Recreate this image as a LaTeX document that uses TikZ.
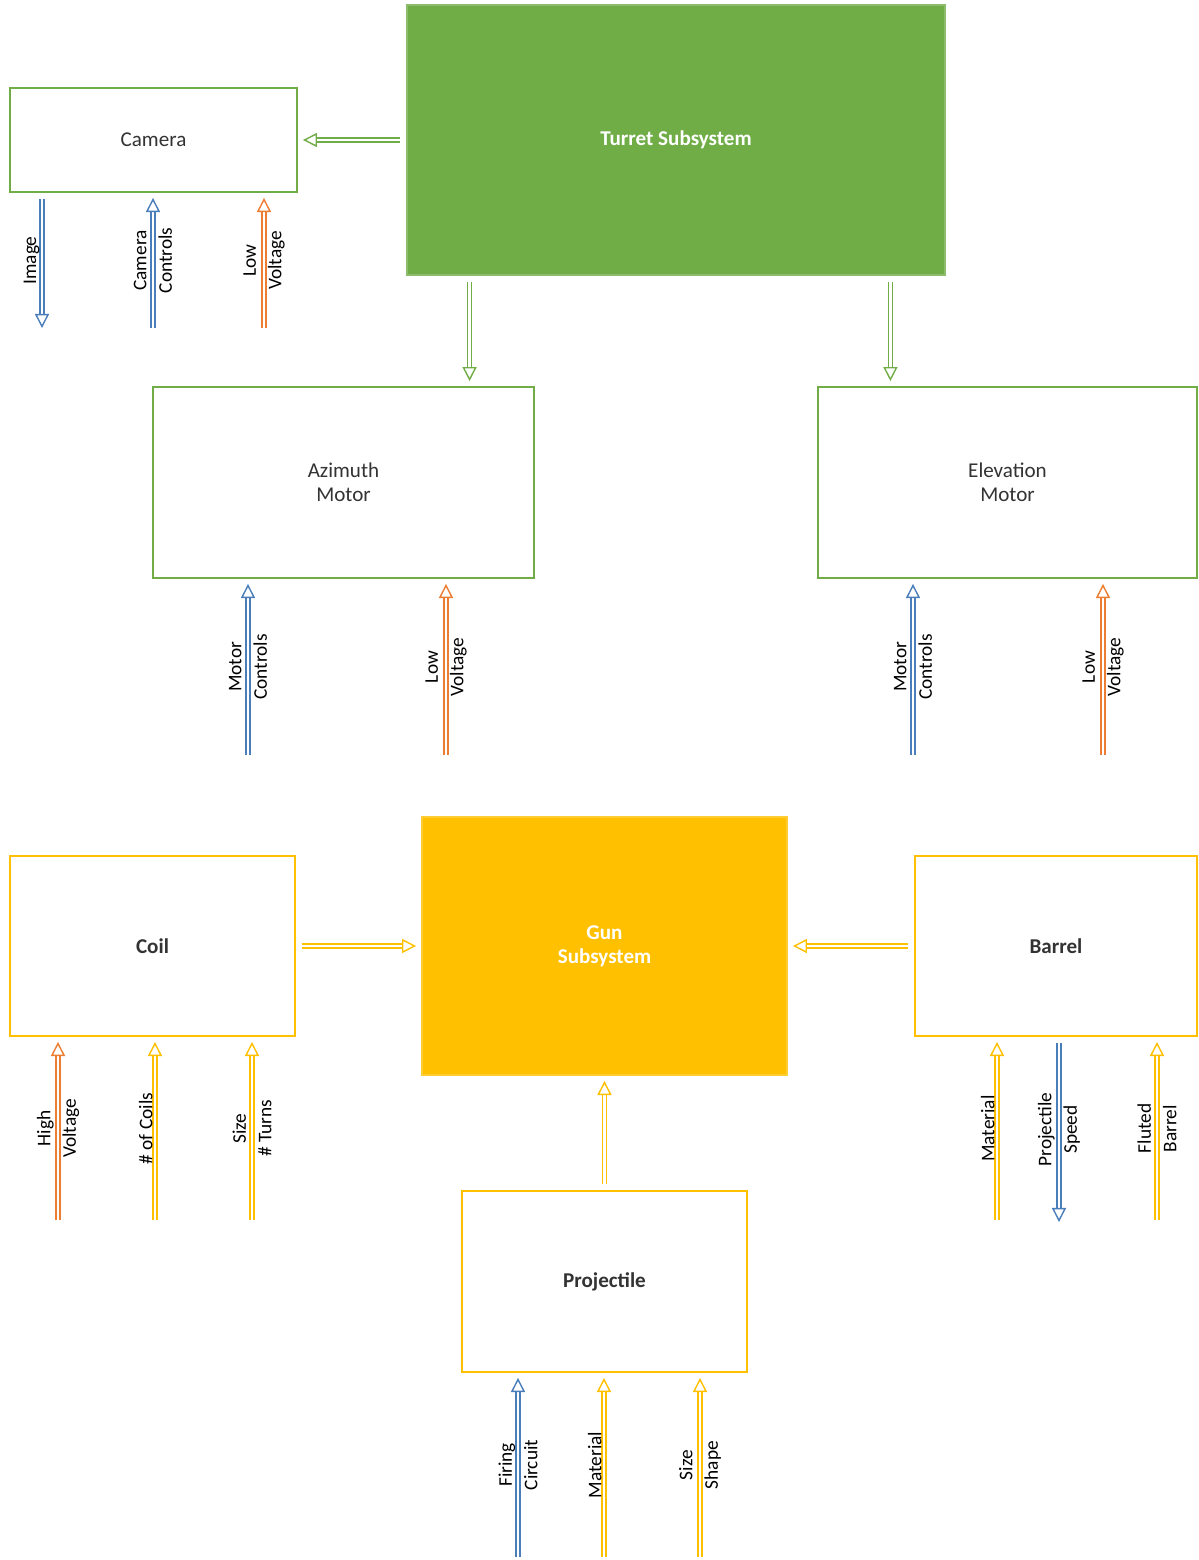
\documentclass[tikz,border=0pt]{standalone}
\usepackage{fontspec}
\setmainfont{Carlito}
\usetikzlibrary{arrows.meta}
\usetikzlibrary{positioning}

\definecolor{turretgreen}{HTML}{70AD47}
\definecolor{gunyellow}{HTML}{FFC000}
\definecolor{sigblue}{HTML}{4A7EBB}
\definecolor{sigorange}{HTML}{ED7D31}

\tikzset{
  block/.style={rectangle, line width=1.1pt, fill=white, text=black!80, align=center, font=\fontsize{12}{13.5}\selectfont},
  greenblock/.style={block, draw=turretgreen},
  yellowblock/.style={block, draw=gunyellow, font=\fontsize{12}{13.5}\selectfont\bfseries},
  mainblock/.style={block, text=white, font=\fontsize{12}{13.5}\selectfont\bfseries},
  flow/.style={double=white, double distance=1.3pt, line width=0.8pt, -{Triangle[open, length=8pt, width=8pt]}},
  tobox/.style={shorten >=0.1cm},
  frombox/.style={shorten <=0.12cm},
  sig/.style={rotate=90, align=center, text=black, font=\fontsize{11}{14.5}\selectfont, inner sep=1pt},
}

\begin{document}
\begin{tikzpicture}[x=0.02cm, y=-0.02cm]
    \useasboundingbox (0,0) rectangle (1198,1560);

    % turret side
    \draw (676,140) node[mainblock, fill=turretgreen, draw=turretgreen!80!white, minimum width=10.78cm, minimum height=5.4cm] (turret) {Turret Subsystem};
    \draw (153.5,140) node[greenblock, minimum width=5.74cm, minimum height=2.08cm] (camera) {Camera};
    \draw (343.5,482.5) node[greenblock, minimum width=7.62cm, minimum height=3.82cm] (azim) {Azimuth\\Motor};
    \draw (1007.5,482.5) node[greenblock, minimum width=7.58cm, minimum height=3.82cm] (elev) {Elevation\\Motor};

    \draw[flow, turretgreen, frombox, tobox] (turret.west) -- (camera.east);
    \draw[flow, turretgreen, frombox, tobox] ([xshift=1.28cm]turret.south west) -- ([xshift=1.28cm]turret.south west |- azim.north);
    \draw[flow, turretgreen, frombox, tobox] ([xshift=-1.12cm]turret.south east) -- ([xshift=-1.12cm]turret.south east |- elev.north);

    \coordinate (cam42) at (42,328);
    \draw[flow, sigblue, frombox] (camera.south -| cam42) -- (cam42) node[sig, midway, anchor=south] {Image};
    \foreach \x/\col/\txt in {153/sigblue/{Camera\\Controls}, 264/sigorange/{Low\\Voltage}}{
        \coordinate (cam\x) at (\x,328);
        \draw[flow, \col, tobox] (cam\x) -- (camera.south -| cam\x) node[sig, midway] {\txt};
    }
    \foreach \x/\col/\txt in {248/sigblue/{Motor\\Controls}, 446/sigorange/{Low\\Voltage}}{
        \coordinate (az\x) at (\x,755);
        \draw[flow, \col, tobox] (az\x) -- (azim.south -| az\x) node[sig, midway] {\txt};
    }
    \foreach \x/\col/\txt in {913/sigblue/{Motor\\Controls}, 1103/sigorange/{Low\\Voltage}}{
        \coordinate (el\x) at (\x,755);
        \draw[flow, \col, tobox] (el\x) -- (elev.south -| el\x) node[sig, midway] {\txt};
    }

    % gun side
    \draw (604.5,946) node[mainblock, fill=gunyellow, draw=gunyellow!80!white, minimum width=7.3cm, minimum height=5.16cm] (gun) {Gun\\Subsystem};
    \draw (152.5,946) node[yellowblock, minimum width=5.7cm, minimum height=3.6cm] (coil) {Coil};
    \draw (1056,946) node[yellowblock, minimum width=5.64cm, minimum height=3.6cm] (barrel) {Barrel};
    \draw (604.5,1281.5) node[yellowblock, minimum width=5.7cm, minimum height=3.62cm] (proj) {Projectile};

    \draw[flow, gunyellow, frombox, tobox] (coil.east) -- (gun.west);
    \draw[flow, gunyellow, frombox, tobox] (barrel.west) -- (gun.east);
    \draw[flow, gunyellow, frombox, tobox] (proj.north) -- (gun.south);

    \foreach \x/\col/\anc/\txt in {58/sigorange/center/{High\\Voltage}, 155/gunyellow/south/{\# of Coils}, 252/gunyellow/center/{Size\\\# Turns}}{
        \coordinate (co\x) at (\x,1220);
        \draw[flow, \col, tobox] (co\x) -- (coil.south -| co\x) node[sig, midway, anchor=\anc] {\txt};
    }
    \foreach \x/\col/\anc/\txt in {997/gunyellow/south/{Material}, 1157/gunyellow/center/{Fluted\\Barrel}}{
        \coordinate (ba\x) at (\x,1220);
        \draw[flow, \col, tobox] (ba\x) -- (barrel.south -| ba\x) node[sig, midway, anchor=\anc] {\txt};
    }
    \coordinate (ba1059) at (1059,1222);
    \draw[flow, sigblue, frombox] (barrel.south -| ba1059) -- (ba1059) node[sig, midway] {Projectile\\Speed};
    \foreach \x/\col/\anc/\txt in {518/sigblue/center/{Firing\\Circuit}, 604/gunyellow/south/{Material}, 700/gunyellow/center/{Size\\Shape}}{
        \coordinate (pr\x) at (\x,1557);
        \draw[flow, \col, tobox] (pr\x) -- (proj.south -| pr\x) node[sig, midway, anchor=\anc] {\txt};
    }
\end{tikzpicture}
\end{document}
